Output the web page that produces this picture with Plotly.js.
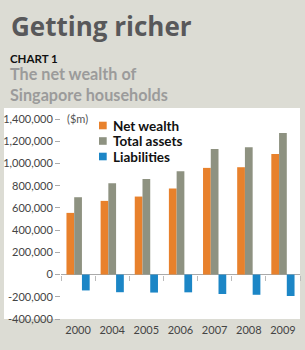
<!DOCTYPE html>
<html>
<head>
<meta charset="utf-8">
<script src="https://cdn.plot.ly/plotly-3.0.1.min.js"></script>
<style>html,body{margin:0;padding:0;background:#dcdcd4;}#chart{width:305px;height:350px;}</style>
</head>
<body>
<div id="chart"></div>
<script>
const years = ['2000','2004','2005','2006','2007','2008','2009'];
const netWealth = [555000, 663000, 702000, 774000, 960000, 966000, 1086000];
const totalAssets = [696000, 822000, 861000, 930000, 1131000, 1146000, 1275000];
const liabilities = [-143000, -159000, -162000, -160000, -175000, -182000, -193000];
const seriesNames = ['Net wealth', 'Total assets', 'Liabilities'];
const seriesColors = ['#e8812c', '#8e9281', '#1c86c6'];
const yTickVals = [-400000, -200000, 0, 200000, 400000, 600000, 800000, 1000000, 1200000, 1400000];
const yTickText = ['-400,000', '-200,000', '0', '200,000', '400,000', '600,000', '800,000', '1,000,000', '1,200,000', '1,400,000'];

const W = 305, H = 350;
const M = {l: 61, r: 5, t: 119, b: 31};
const pw = W - M.l - M.r, ph = H - M.t - M.b;
const px = x => (x - M.l) / pw;
const py = y => (H - M.b - y) / ph;

const FONT = 'Lato, "Open Sans", sans-serif';
const seriesValues = [netWealth, totalAssets, liabilities];
const traces = seriesValues.map((vals, i) => ({
  type: 'bar', x: years, y: vals, name: seriesNames[i],
  marker: {color: seriesColors[i], line: {width: 0}},
  showlegend: false, hoverinfo: 'x+y+name'
}));
// helper trace for the boundary ticks on the zero line
traces.push({type: 'scatter', mode: 'none', x: years, y: years.map(() => null), xaxis: 'x2', showlegend: false, hoverinfo: 'skip'});

const shapes = [{
  type: 'rect', xref: 'paper', yref: 'paper', layer: 'below',
  x0: px(4), x1: px(300), y0: py(319), y1: py(108),
  fillcolor: '#ffffff', line: {width: 0}
}];
const annotations = [
  {text: '<b>Getting richer</b>', x: px(9), y: py(26), font: {size: 26, color: '#58585a', family: '"Open Sans", Lato, sans-serif'}},
  {text: '<b>CHART 1</b>', x: px(8), y: py(58.5), font: {size: 11.5, color: '#111111'}},
  {text: '<b>The net wealth of</b><br><b>Singapore households</b>', x: px(8), y: py(83.5), font: {size: 16.2, color: '#9b9b9b'}, align: 'left'},
  {text: '($m)', x: px(65), y: py(118), font: {size: 11, color: '#555555'}}
];
seriesNames.forEach((n, i) => {
  const cy = 125.5 + i * 15.5;
  shapes.push({type: 'rect', xref: 'paper', yref: 'paper', x0: px(99), x1: px(106.7), y0: py(cy + 3.8), y1: py(cy - 3.8), fillcolor: seriesColors[i], line: {width: 0}});
  annotations.push({text: '<b>' + n + '</b>', x: px(111), y: py(cy), font: {size: 13.5, color: '#111111'}});
});
annotations.forEach(a => { a.xref = 'paper'; a.yref = 'paper'; a.xanchor = 'left'; a.yanchor = 'middle'; a.showarrow = false; if (!a.font.family) a.font.family = FONT; });

const layout = {
  width: W, height: H, margin: M,
  paper_bgcolor: '#dcdcd4', plot_bgcolor: 'rgba(0,0,0,0)',
  font: {family: FONT, color: '#444444'},
  barmode: 'group', bargap: 0.32, bargroupgap: 0,
  xaxis: {type: 'category', showgrid: false, showline: false, zeroline: false, ticks: '', ticklabelstandoff: 3, tickfont: {size: 11, color: '#444444'}, fixedrange: true},
  xaxis2: {type: 'category', overlaying: 'x', matches: 'x', anchor: 'free', position: py(275), tickson: 'boundaries', ticks: 'outside', ticklen: 5, tickcolor: '#bbbbbb', showticklabels: false, showgrid: false, showline: false, zeroline: false},
  yaxis: {range: [-400000, 1400000], tickvals: yTickVals, ticktext: yTickText, showgrid: false, showline: false, zeroline: true, zerolinecolor: '#aaaaaa', zerolinewidth: 1, ticks: 'outside', ticklen: 5, tickcolor: '#aaaaaa', tickfont: {size: 11, color: '#444444'}, fixedrange: true},
  shapes: shapes, annotations: annotations
};
Plotly.newPlot('chart', traces, layout, {displayModeBar: false, staticPlot: true});
</script>
</body>
</html>
